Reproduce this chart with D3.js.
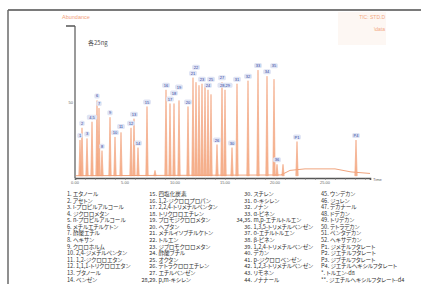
<!DOCTYPE html>
<html>
<head>
<meta charset="utf-8">
<script src="https://cdn.jsdelivr.net/npm/d3@7"></script>
<style>
	body { margin: 0; background: #fff; }
	svg { display: block; }
	.jp { font-feature-settings: "palt"; }
</style>
</head>
<body>
<script>
(function () {

	'use strict';

	// retention time (min) / abundance (%)
	var peakTimes = [0.5, 0.7, 1.2, 1.7, 2.2, 2.4, 2.7, 3.5, 4.0, 4.6, 5.6, 5.9, 6.3, 7.2, 8.0,
		9.1, 9.5, 9.9, 10.4, 11.3, 11.8, 12.1, 12.4, 12.7, 13.0, 13.3, 13.6, 14.2, 14.7, 15.0,
		15.7, 16.2, 17.3, 18.3, 19.2, 19.9, 20.2, 20.8, 22.2, 28.1];
	var peakHeights = [25, 33, 26, 37, 51, 46, 18, 40, 27, 30, 33, 39, 20, 47, 5,
		58, 49, 49, 51, 47, 66, 63, 61, 62, 61, 58, 55, 22, 63, 58,
		20, 62, 64, 71, 67, 65, 9, 9, 24, 25];
	var peakLabels = ['1', '2', '3', '4,5', '6', '7', '8', '9', '10', '11', '12', '13', '14', '15', '',
		'16', '17', '18', '19', '20', '21', '22', '', '23', '', '24', '25', '26', '27', '28,29',
		'30', '31', '32', '33', '34', '35', '36', '', 'P1', 'P4'];

	// baseline drift at the end of the run
	var driftTimes = [0, 20.6, 21.5, 23, 26, 27.6, 29.5];
	var driftHeights = [1.5, 2, 5, 6, 6, 4, 3];

	var timeTicks = [0, 5, 10, 15, 20, 25];
	var timeTickLabels = ['0.00', '5.00', '10.00', '15.00', '20.00', '25.00'];

	var legendCol1 = ['1. エタノール', '2. アセトン', '3. i-プロピルアルコール', '4. ジクロロメタン',
		'5. n-プロピルアルコール', '6. メチルエチルケトン', '7. 酢酸エチル', '8. ヘキサン',
		'9. クロロホルム', '10. 2,4-ジメチルペンタン', '11. 1,2-ジクロロエタン',
		'12. 1,1,1-トリクロロエタン', '13. ブタノール', '14. ベンゼン'];
	var legendCol2 = ['15. 四塩化炭素', '16. 1,2-ジクロロプロパン', '17. 2,2,4-トリメチルペンタン',
		'18. トリクロロエチレン', '19. ブロモジクロロメタン', '20. ヘプタン',
		'21. メチルイソブチルケトン', '22. トルエン', '23. ジブロモクロロメタン', '24. 酢酸ブチル',
		'25. オクタン', '26. テトラクロロエチレン', '27. エチルベンゼン', '28,29. p,m-キシレン'];
	var legendCol3 = ['30. スチレン', '31. o-キシレン', '32. ノナン', '33. α-ピネン',
		'34,35. m,p-エチルトルエン', '36. 1,3,5-トリメチルベンゼン', '37. o-エチルトルエン',
		'38. β-ピネン', '39. 1,2,4-トリメチルベンゼン', '40. デカン', '41. p-ジクロロベンゼン',
		'42. 1,2,3-トリメチルベンゼン', '43. リモネン', '44. ノナナール'];
	var legendCol4 = ['45. ウンデカン', '46. ジュレン', '47. デカナール', '48. ドデカン',
		'49. トリデカン', '50. テトラデカン', '51. ペンタデカン', '52. ヘキサデカン',
		'P1. ジメチルフタレート', 'P2. ジエチルフタレート', 'P3. ジブチルフタレート',
		'P4. ジエチルヘキシルフタレート', '*. トルエン-d8', '**. ジエチルヘキシルフタレート-d4'];

	var width = 421;
	var height = 284;
	var jp = '"Noto Sans CJK JP", "Noto Sans", sans-serif';

	var svg = d3.select('body')
		.append('svg')
		.attr('width', width)
		.attr('height', height);

	// frame
	svg.append('line')
		.attr('x1', 8).attr('y1', 10).attr('x2', width).attr('y2', 10)
		.attr('stroke', '#7a7a7a').attr('stroke-width', 2);
	svg.append('line')
		.attr('x1', 8).attr('y1', 10).attr('x2', 8).attr('y2', height)
		.attr('stroke', '#6a6a6a').attr('stroke-width', 1.5);

	var x = d3.scaleLinear().domain([0, 29.5]).range([75, 370]);
	var y = d3.scaleLinear().domain([0, 100]).range([178, 26]);

	// header texts
	svg.append('text')
		.attr('x', 62).attr('y', 19)
		.attr('font-family', 'Arial, sans-serif').attr('font-size', 5.5)
		.attr('fill', '#f2a07a')
		.text('Abundance');
	svg.append('rect')
		.attr('x', 338).attr('y', 12).attr('width', 48).attr('height', 33)
		.attr('fill', '#fdf7f3');
	svg.append('text')
		.attr('x', 385).attr('y', 19).attr('text-anchor', 'end')
		.attr('font-family', 'Arial, sans-serif').attr('font-size', 5)
		.attr('fill', '#f2a882')
		.text('TIC: STD.D');
	svg.append('text')
		.attr('x', 385).attr('y', 31).attr('text-anchor', 'end')
		.attr('font-family', 'Arial, sans-serif').attr('font-size', 5)
		.attr('fill', '#f2a882')
		.text('\\data');
	svg.append('text')
		.attr('x', 88).attr('y', 45)
		.attr('font-family', jp).attr('font-size', 6)
		.attr('fill', '#555')
		.text('各25ng');

	// baseline with drift
	var drift = d3.line()
		.x(function (d) { return x(d[0]); })
		.y(function (d) { return y(d[1]); });
	svg.append('path')
		.attr('d', drift(d3.zip(driftTimes, driftHeights)))
		.attr('fill', 'none')
		.attr('stroke', '#f0a47e')
		.attr('stroke-width', 1);

	// peaks
	var half = 0.12;
	var peaks = svg.append('g');
	peakTimes.forEach(function (t, i) {
		var h = peakHeights[i];
		peaks.append('path')
			.attr('d', 'M' + x(t - half) + ',' + y(1.5) + 'L' + x(t) + ',' + y(h) + 'L' + x(t + half) + ',' + y(1.5) + 'Z')
			.attr('fill', '#f6ae88')
			.attr('stroke', '#f19669')
			.attr('stroke-width', 0.6)
			.attr('opacity', 0.9);
	});

	// peak labels, bumped up when they would overlap
	var placed = [];
	var boxH = 5;
	peakTimes.forEach(function (t, i) {
		var lab = peakLabels[i];
		if (!lab) { return; }
		var w = lab.length * 2.4 + 3;
		var bx = x(t) - w / 2;
		var by = y(peakHeights[i]) - boxH - 2;
		var moved = true;
		while (moved) {
			moved = false;
			for (var k = 0; k < placed.length; k++) {
				var p = placed[k];
				if (bx < p.x + p.w && bx + w > p.x && by < p.y + p.h && by + boxH > p.y) {
					by = p.y - boxH - 1;
					moved = true;
				}
			}
		}
		placed.push({ x: bx, y: by, w: w, h: boxH });
		svg.append('rect')
			.attr('x', bx).attr('y', by).attr('width', w).attr('height', boxH)
			.attr('rx', 1.5)
			.attr('fill', '#dfe4f4');
		svg.append('text')
			.attr('x', x(t)).attr('y', by + 4)
			.attr('text-anchor', 'middle')
			.attr('font-family', 'Arial, sans-serif').attr('font-size', 4)
			.attr('fill', '#2c3f9c')
			.text(lab);
	});

	// y axis
	svg.append('line')
		.attr('x1', 75).attr('y1', y(100)).attr('x2', 75).attr('y2', y(0))
		.attr('stroke', '#9a9a9a').attr('stroke-width', 2);
	svg.append('line')
		.attr('x1', 66).attr('y1', y(100)).attr('x2', 75).attr('y2', y(100))
		.attr('stroke', '#555').attr('stroke-width', 1.5);
	svg.append('text')
		.attr('x', 73).attr('y', y(50) + 1.5).attr('text-anchor', 'end')
		.attr('font-family', 'Arial, sans-serif').attr('font-size', 4)
		.attr('fill', '#666')
		.text('50');

	// x axis
	var xAxis = d3.axisBottom(x)
		.tickValues(d3.range(0, 30, 1))
		.tickSize(2)
		.tickFormat('');
	var gx = svg.append('g')
		.attr('transform', 'translate(0,' + y(0) + ')')
		.call(xAxis);
	gx.select('.domain').attr('stroke', '#555').attr('stroke-width', 1.6);
	gx.selectAll('.tick line').attr('stroke', '#777').attr('stroke-width', 0.6);

	svg.append('g')
		.selectAll('text')
		.data(timeTicks)
		.join('text')
		.attr('x', function (d) { return x(d); })
		.attr('y', 184)
		.attr('text-anchor', 'middle')
		.attr('font-family', 'Arial, sans-serif').attr('font-size', 4)
		.attr('fill', '#666')
		.text(function (d, i) { return timeTickLabels[i]; });
	svg.append('text')
		.attr('x', 373).attr('y', 181)
		.attr('font-family', 'Arial, sans-serif').attr('font-size', 4)
		.attr('fill', '#666')
		.text('Time');

	// legend
	var rowY = d3.scaleLinear().domain([0, 13]).range([196, 281.5]);
	var fs = 5.6;

	function plainColumn(items, left) {
		svg.append('g')
			.selectAll('text')
			.data(items)
			.join('text')
			.attr('class', 'jp')
			.attr('x', left)
			.attr('y', function (d, i) { return rowY(i); })
			.attr('font-family', jp).attr('font-size', fs)
			.attr('fill', '#333')
			.text(function (d) { return d; });
	}

	function splitColumn(items, mid) {
		var g = svg.append('g');
		items.forEach(function (d, i) {
			var cut = d.indexOf('. ');
			g.append('text')
				.attr('class', 'jp')
				.attr('x', mid).attr('y', rowY(i))
				.attr('text-anchor', 'end')
				.attr('font-family', jp).attr('font-size', fs)
				.attr('fill', '#333')
				.text(d.slice(0, cut + 1));
			g.append('text')
				.attr('class', 'jp')
				.attr('x', mid + 1.5).attr('y', rowY(i))
				.attr('font-family', jp).attr('font-size', fs)
				.attr('fill', '#333')
				.text(d.slice(cut + 2));
		});
	}

	plainColumn(legendCol1, 67);
	splitColumn(legendCol2, 157);
	splitColumn(legendCol3, 252);
	plainColumn(legendCol4, 321);

})();
</script>
</body>
</html>
